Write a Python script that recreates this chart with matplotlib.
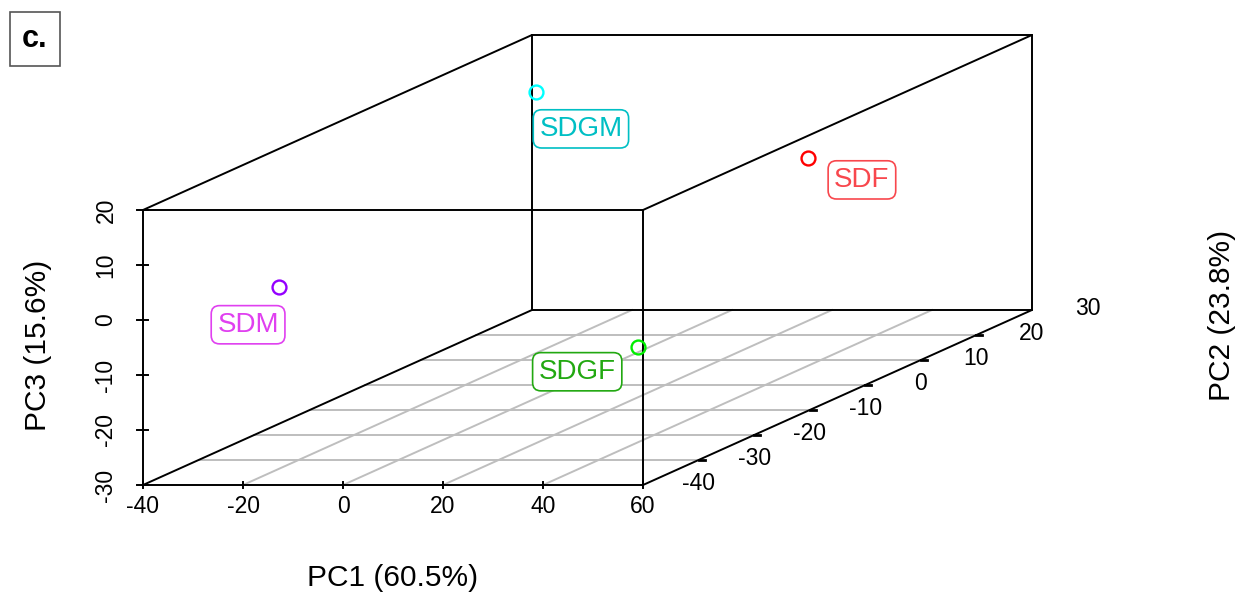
import matplotlib
matplotlib.use("Agg")
from matplotlib import pyplot as plt
import numpy as np

plt.rcParams['font.family'] = ['Liberation Sans', 'DejaVu Sans']

# group centroids on the first three principal components
groups = ["SDGM", "SDF", "SDM", "SDGF"]
pc1 = [-28.1, 26.3, -23.9, 25.7]
pc2 = [10.0, 10.0, -40.0, -20.0]
pc3 = [14.2, 2.2, 1.5, -18.5]
point_colors = ["#00FFFF", "#FF0000", "#9400FF", "#00EE00"]
label_colors = ["#00BFC4", "#F8474D", "#E040F0", "#22A811"]
# label offsets from each point, in pixels (right, up)
label_dx = [45, 54, -31, -61]
label_dy = [-37, -22, -38, -25]

x_range = (-40, 60)
y_range = (-50, 20)
z_range = (-30, 20)
x_ticks = [-40, -20, 0, 20, 40, 60]
y_ticks = [-40, -30, -20, -10, 0, 10, 20]
y_tick_labels = [-40, -30, -20, -10, 0, 10, 20, 30]
z_ticks = [-30, -20, -10, 0, 10, 20]

# oblique projection: depth (PC2) shifts right and up
KX = 77.8 / 70
KZ = 31.82 / 70


def proj(x, y, z):
    x = np.asarray(x, float)
    y = np.asarray(y, float)
    z = np.asarray(z, float)
    d = y - y_range[0]
    return x + KX * d, z + KZ * d


fig = plt.figure(figsize=(12.39, 5.93), dpi=100)
ax = fig.add_axes([0, 0, 1, 1])
ax.set_xlim(-68.6, 179.2)
ax.set_ylim(-49.636, 58.18)
ax.axis('off')

x0, x1 = x_range
y0, y1 = y_range
z0, z1 = z_range

# floor grid
grid = dict(color="#BEBEBE", lw=1.4, zorder=1)
for yv in y_ticks[:-1]:
    u, v = proj([x0, x1], [yv, yv], [z0, z0])
    ax.plot(u, v, **grid)
for xv in x_ticks[1:-1]:
    u, v = proj([xv, xv], [y0, y1], [z0, z0])
    ax.plot(u, v, **grid)

# box edges
edges = [
    ((x0, y0, z0), (x1, y0, z0)), ((x0, y0, z1), (x1, y0, z1)),
    ((x0, y0, z0), (x0, y0, z1)), ((x1, y0, z0), (x1, y0, z1)),
    ((x0, y1, z0), (x1, y1, z0)), ((x0, y1, z1), (x1, y1, z1)),
    ((x0, y1, z0), (x0, y1, z1)), ((x1, y1, z0), (x1, y1, z1)),
    ((x0, y0, z0), (x0, y1, z0)), ((x1, y0, z0), (x1, y1, z0)),
    ((x0, y0, z1), (x0, y1, z1)), ((x1, y0, z1), (x1, y1, z1)),
]
for a, b in edges:
    u, v = proj(*zip(a, b))
    ax.plot(u, v, color="black", lw=1.4, zorder=2, solid_capstyle='round')

# x axis ticks and labels
for xv in x_ticks:
    ax.plot([xv, xv], [z0 - 0.6, z0 + 0.6], color="black", lw=1.4, zorder=2)
    ax.annotate(str(xv), (xv, z0), xytext=(0, -22), textcoords='offset pixels',
                ha='center', va='center', fontsize=16.5)

# z axis ticks and labels
for zv in z_ticks:
    ax.plot([x0 - 1.2, x0 + 1.0], [zv, zv], color="black", lw=1.4, zorder=2)
    ax.annotate(str(zv), (x0, zv), xytext=(-37, 0), textcoords='offset pixels',
                ha='center', va='center', fontsize=16.5, rotation=90)

# y axis ticks along the floor diagonal
for yv in y_ticks[:-1]:
    u, v = proj([x1, x1 + 1.2], [yv, yv], [z0, z0])
    ax.plot(u, v, color="black", lw=2, zorder=2)
for yv in y_tick_labels:
    u, v = proj(x1, yv, z0)
    ax.annotate(str(yv), (u, v), xytext=(0, -24), textcoords='offset pixels',
                ha='center', va='center', fontsize=16.5)

# points and their labels
u, v = proj(pc1, pc2, pc3)
for i, name in enumerate(groups):
    ax.plot(u[i], v[i], 'o', ms=10, mfc='none', mec=point_colors[i],
            mew=1.7, zorder=4)
    ax.annotate(name, (u[i], v[i]), xytext=(label_dx[i], label_dy[i]),
                textcoords='offset pixels', ha='center', va='center',
                fontsize=20, color=label_colors[i], zorder=5,
                bbox=dict(boxstyle='round,pad=0.22,rounding_size=0.3',
                          fc='white', ec=label_colors[i], lw=1.2))

# axis titles
fig.text(393 / 1239, 1 - 578 / 593, "PC1 (60.5%)", ha='center', va='center',
         fontsize=21.5)
fig.text(38 / 1239, 1 - 345 / 593, "PC3 (15.6%)", ha='center', va='center',
         fontsize=21.5, rotation=90)
fig.text(1222 / 1239, 1 - 315 / 593, "PC2 (23.8%)", ha='center', va='center',
         fontsize=21.5, rotation=90)

# panel tag
fig.text(35 / 1239, 1 - 39 / 593, "c.", ha='center', va='center',
         fontsize=22, fontweight='bold',
         bbox=dict(boxstyle='square,pad=0.4', fc='white', ec='#555555', lw=1.2))

fig.savefig("out.png", dpi=100)
